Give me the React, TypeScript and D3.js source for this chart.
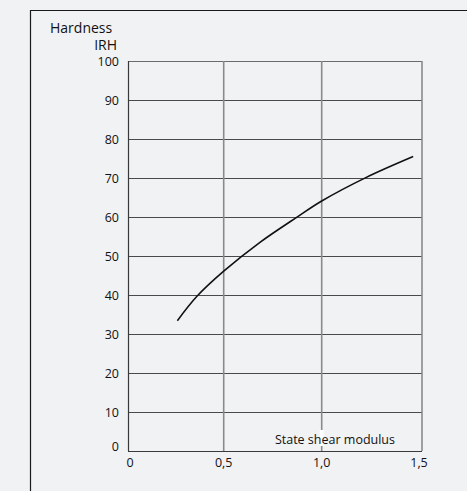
import { useEffect, useRef } from 'react';
import * as d3 from 'd3';

// curve
const modulus = [0.258, 0.359, 0.5, 0.685, 0.878, 1.0, 1.22, 1.456];
const hardness = [33.4, 39.6, 46.1, 53.5, 60.1, 64.1, 70.1, 75.5];
const yTicks = [0, 10, 20, 30, 40, 50, 60, 70, 80, 90, 100];
const xTicks = [0, 0.5, 1.0, 1.5];
const xTickLabels = ['0', '0,5', '1,0', '1,5'];

const App = () => {
  const svgRef = useRef<SVGSVGElement | null>(null);

  useEffect(() => {
    if (!svgRef.current) return;
    const svg = d3.select(svgRef.current);
    svg.selectAll('*').remove();

    const width = 467;
    const height = 491;
    const font = '"Open Sans", sans-serif';

    svg.attr('width', width).attr('height', height);

    svg.append('rect')
      .attr('width', width)
      .attr('height', height)
      .attr('fill', '#f1f2f4');

    // outer frame (top + left only)
    svg.append('path')
      .attr('d', `M30.5,${height} V10.5 H${width}`)
      .attr('fill', 'none')
      .attr('stroke', '#1a1a1a')
      .attr('stroke-width', 1.2);

    // the printed grid is not quite even, so map each gridline where it sits
    const x = d3.scaleLinear().domain(xTicks).range([128, 223.7, 321.7, 422]);
    const y = d3.scaleLinear().domain([0, 100]).range([451, 61]);

    const g = svg.append('g');

    // horizontal grid
    g.selectAll('.hgrid')
      .data(yTicks)
      .enter()
      .append('line')
      .attr('x1', x(0))
      .attr('x2', x(1.5))
      .attr('y1', (d) => Math.round(y(d)) + 0.5)
      .attr('y2', (d) => Math.round(y(d)) + 0.5)
      .attr('stroke', (d) => (d === 100 ? '#6b6b6b' : '#4a4a4a'))
      .attr('stroke-width', 1);

    // vertical grid
    g.selectAll('.vgrid')
      .data(xTicks.slice(1))
      .enter()
      .append('line')
      .attr('x1', (d) => x(d))
      .attr('x2', (d) => x(d))
      .attr('y1', y(100))
      .attr('y2', y(0))
      .attr('stroke', '#8a8a8a')
      .attr('stroke-width', 1.6);

    // axes lines
    g.append('line')
      .attr('x1', x(0) + 0.5)
      .attr('x2', x(0) + 0.5)
      .attr('y1', y(100))
      .attr('y2', y(0))
      .attr('stroke', '#3a3a3a')
      .attr('stroke-width', 1.2);
    g.append('line')
      .attr('x1', x(0))
      .attr('x2', x(1.5))
      .attr('y1', Math.round(y(0)) + 0.5)
      .attr('y2', Math.round(y(0)) + 0.5)
      .attr('stroke', '#3a3a3a')
      .attr('stroke-width', 1.2);

    // y tick labels
    g.selectAll('.ylab')
      .data(yTicks)
      .enter()
      .append('text')
      .attr('x', x(0) - 9)
      .attr('y', (d) => y(d) - (d === 0 ? 5 : 0))
      .attr('dy', '0.36em')
      .attr('text-anchor', 'end')
      .attr('font-family', font)
      .attr('font-size', '12.5px')
      .attr('fill', '#111')
      .text((d) => d);

    // x tick labels
    g.selectAll('.xlab')
      .data(xTicks)
      .enter()
      .append('text')
      .attr('x', (d, i) => x(d) + (i === 0 ? 2 : i === 3 ? -3 : 0))
      .attr('y', y(0) + 11)
      .attr('dy', '0.36em')
      .attr('text-anchor', 'middle')
      .attr('font-family', font)
      .attr('font-size', '12.5px')
      .attr('fill', '#111')
      .text((d, i) => xTickLabels[i]);

    // x axis title, with a small knock-out where the 1,0 grid line passes
    g.append('rect')
      .attr('x', x(1.0) - 2)
      .attr('y', y(0) - 21)
      .attr('width', 4)
      .attr('height', 16)
      .attr('fill', '#ffffff');
    g.append('text')
      .attr('x', x(1.5) - 27)
      .attr('y', y(0) - 12)
      .attr('dy', '0.36em')
      .attr('text-anchor', 'end')
      .attr('font-family', font)
      .attr('font-size', '12.5px')
      .attr('fill', '#111')
      .text('State shear modulus');

    // y axis title
    g.append('text')
      .attr('x', 50)
      .attr('y', 33)
      .attr('font-family', font)
      .attr('font-size', '14px')
      .attr('fill', '#111')
      .text('Hardness');
    g.append('text')
      .attr('x', 117)
      .attr('y', 50)
      .attr('text-anchor', 'end')
      .attr('font-family', font)
      .attr('font-size', '14px')
      .attr('fill', '#111')
      .text('IRH');

    // curve
    const line = d3.line<number>()
      .x((d, i) => x(modulus[i]))
      .y((d) => y(d))
      .curve(d3.curveCatmullRom.alpha(0.5));

    g.append('path')
      .datum(hardness)
      .attr('d', line)
      .attr('fill', 'none')
      .attr('stroke', '#111')
      .attr('stroke-width', 1.6);
  }, []);

  return (
    <svg
      ref={svgRef}
      style={{ position: 'absolute', left: 0, top: 0, display: 'block' }}
    ></svg>
  );
};

export default App;
